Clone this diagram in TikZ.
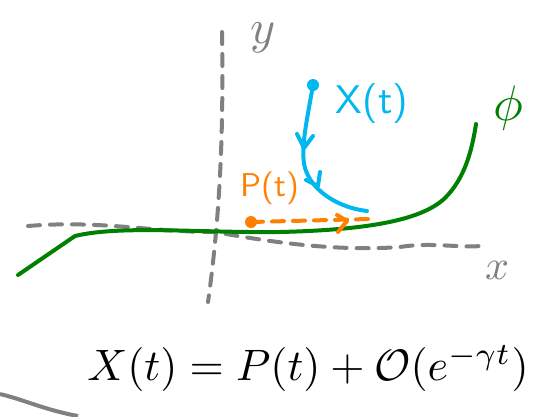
\documentclass[tikz,border=0pt]{standalone}
\usetikzlibrary{arrows.meta}
\definecolor{axisgray}{RGB}{128,128,128}
\definecolor{curvegreen}{RGB}{0,128,0}
\definecolor{xblue}{RGB}{0,183,240}
\definecolor{porange}{RGB}{255,128,0}
\tikzset{
  axis/.style={draw=axisgray, line width=4pt, line cap=round, dash pattern=on 12pt off 10pt},
  manifold/.style={draw=curvegreen, line width=4pt, line cap=round, line join=round},
  traj/.style={draw=xblue, line width=4pt, line cap=round},
  proj/.style={draw=porange, line width=4pt, line cap=round, dash pattern=on 12pt off 9pt},
  lbl/.style={inner sep=0pt},
  chev/.style={line width=4pt, line cap=round, line join=round}
}
\begin{document}
\begin{tikzpicture}[x=1pt,y=-1pt]
\useasboundingbox (0,0) rectangle (534,416);
% axes
\coordinate (ytop) at (222,32);
\coordinate (ybot) at (208,302);
\draw[axis] (ytop) .. controls (224,150) and (218,230) .. (ybot);
\coordinate (xl) at (28,226);
\coordinate (xr) at (480,246);
\draw[axis] (xl) .. controls (100,220) and (150,232) .. (215,232)
  .. controls (260,240) and (330,252) .. (400,247) .. controls (430,242) and (460,248) .. (xr);
\node[lbl, text=axisgray] (ylab) at (263,38) {\scalebox{4.8}{$y$}};
\node[lbl, text=axisgray] (xlab) at (497,270) {\scalebox{4.2}{$x$}};
% bottom-left grey stroke
\coordinate (g1) at (0,394);
\coordinate (g2) at (78,416);
\draw[draw=axisgray, line width=4pt] (g1) .. controls (25,400) and (45,410) .. (g2);
% manifold phi
\coordinate (m0) at (18,275);
\coordinate (m1) at (476,124);
\draw[manifold] (m0) -- (75,236) .. controls (120,225) and (200,233) .. (280,232)
  .. controls (360,230) and (420,222) .. (445,198) .. controls (465,178) and (472,150) .. (m1);
\node[lbl, text=curvegreen] (phi) at (508,108) {\scalebox{5}{$\phi$}};
% trajectory X(t)
\coordinate (x0) at (313,85);
\coordinate (x1) at (367,211);
\fill[xblue] (x0) circle (6pt);
\draw[traj] (x0) .. controls (307,120) and (300,150) .. (305,168)
  .. controls (312,192) and (340,208) .. (x1);
\draw[traj, chev] (297,134) -- (304,148) -- (313,136);
\draw[traj, chev] (306,180) -- (318,186) -- (320,172);
\node[lbl, text=xblue, font=\sffamily] (xlabel) at (372,103) {\scalebox{4}{X(t)}};
% projection P(t)
\coordinate (p0) at (251,222);
\coordinate (p1) at (369,219);
\fill[porange] (p0) circle (6pt);
\draw[proj] (p0) -- (p1);
\draw[porange, chev] (337,215) -- (347,221) -- (338,232);
\node[lbl, text=porange, font=\sffamily] (plabel) at (270,188) {\scalebox{3.3}{P(t)}};
% equation
\node[inner sep=0pt] (eq) at (308,368)
  {\scalebox{4.4}{$X(t) = P(t) + \mathcal{O}(e^{-\gamma t})$}};
\end{tikzpicture}
\end{document}
